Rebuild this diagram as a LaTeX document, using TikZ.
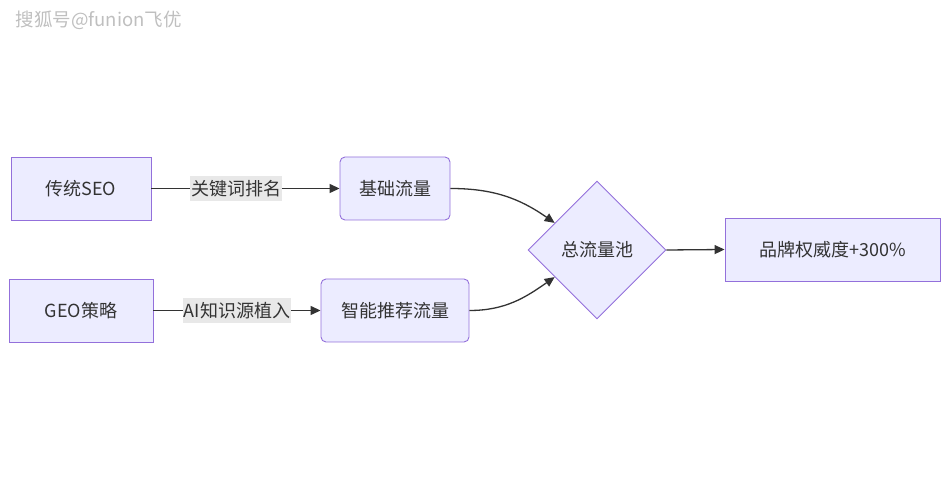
\documentclass[tikz,border=0pt]{standalone}
\usepackage{fontspec}
\setmainfont{Noto Sans CJK SC}
\usetikzlibrary{shapes.geometric,arrows.meta,calc}
\definecolor{nodefill}{HTML}{ECECFF}
\definecolor{nodeline}{HTML}{9370DB}
\definecolor{txt}{HTML}{333333}
\definecolor{lblbg}{HTML}{E8E8E8}
\begin{document}
\begin{tikzpicture}[x=1pt,y=1pt,
  every node/.style={font=\fontsize{18}{20}\selectfont, text=txt},
  box/.style={draw=nodeline, fill=nodefill, line width=0.9pt, minimum height=63pt, inner sep=0pt},
  rbox/.style={box, rounded corners=5pt},
  pooldiamond/.style={diamond, draw=nodeline, fill=nodefill, line width=0.9pt, minimum width=138pt, minimum height=138pt, inner sep=0pt},
  edgelbl/.style={fill=lblbg, inner sep=1pt, minimum height=25pt},
  conn/.style={draw=txt, line width=1.3pt, -{Triangle[length=10pt,width=9pt]}},
  wmark/.style={font=\fontsize{18.5}{20}\selectfont, text=black!25}
]
\useasboundingbox (0,0) rectangle (949,500);
\node[wmark, anchor=west] (wm) at (12,480) {搜狐号@funion飞优};

\node[box, minimum width=140pt] (seo) at (81,311.5) {传统SEO};
\node[rbox, minimum width=110pt] (base) at (395,311.5) {基础流量};
\node[box, minimum width=144pt] (geo) at (81,189.5) {GEO策略};
\node[rbox, minimum width=148pt] (smart) at (395,189.5) {智能推荐流量};
\node[pooldiamond] (pool) at (597,250) {总流量池};
\node[box, minimum width=215pt] (brand) at (832.5,250.5) {品牌权威度+300\%};

\coordinate (inA) at ($(pool.west)!0.39!(pool.north)$);
\coordinate (inB) at ($(pool.west)!0.39!(pool.south)$);

\draw[conn] (seo) -- (base) node[edgelbl, pos=0.45] (l1) {关键词排名};
\draw[conn] (geo) -- (smart) node[edgelbl, pos=0.5] (l2) {AI知识源植入};
\draw[conn] (base.east) to[out=0,in=145] (inA);
\draw[conn] (smart.east) to[out=0,in=215] (inB);
\draw[conn] (pool.east) -- (brand.west);
\end{tikzpicture}
\end{document}
